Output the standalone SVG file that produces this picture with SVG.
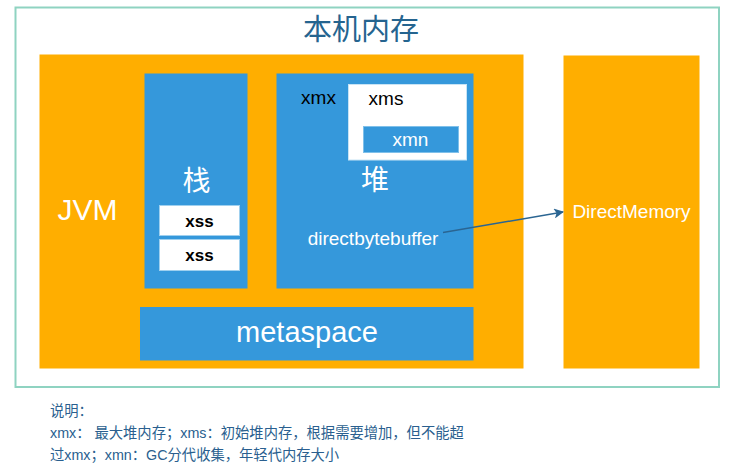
<svg xmlns="http://www.w3.org/2000/svg" width="735" height="472" viewBox="0 0 735 472">
<style>
.t{font-family:"Liberation Sans","Noto Sans CJK SC",sans-serif;}
.cjk{font-family:"Noto Sans CJK SC","Liberation Sans",sans-serif;}
.orange{fill:#ffae00;}
.blue{fill:#3598db;}
.w{fill:#ffffff;}
.note{font-family:"Liberation Sans","Noto Sans CJK SC",sans-serif;font-size:14.3px;fill:#2a5f8f;}
</style>
<defs>
<marker id="arr" viewBox="0 0 10 10" refX="9" refY="5" markerWidth="10" markerHeight="10" orient="auto" markerUnits="userSpaceOnUse">
<path d="M0,0 L10,5 L0,10 L2.5,5 Z" fill="#2a6592"/>
</marker>
</defs>
<rect width="735" height="472" fill="#ffffff"/>
<g id="native-memory">
<rect x="15.5" y="7.5" width="703.5" height="379.5" fill="#ffffff" stroke="#8fd3c1" stroke-width="2"/>
<text class="cjk" x="361" y="40" font-size="29" fill="#25648f" text-anchor="middle">本机内存</text>
</g>
<g id="jvm">
<rect class="orange" x="39.5" y="54.5" width="484" height="314"/>
<text class="t" x="87.5" y="220" font-size="30" fill="#ffffff" text-anchor="middle">JVM</text>
</g>
<g id="stack">
<rect class="blue" x="144.5" y="73.5" width="103" height="215"/>
<text class="cjk" x="196.5" y="191" font-size="28" fill="#ffffff" text-anchor="middle">栈</text>
</g>
<g id="xss1">
<rect class="w" x="159.5" y="205.5" width="80" height="30" stroke="#9fd0ef" stroke-width="1"/>
<text class="t" x="199.5" y="226.5" font-size="17" font-weight="bold" fill="#000000" text-anchor="middle">xss</text>
</g>
<g id="xss2">
<rect class="w" x="159.5" y="239.5" width="80" height="31" stroke="#9fd0ef" stroke-width="1"/>
<text class="t" x="199.5" y="261" font-size="17" font-weight="bold" fill="#000000" text-anchor="middle">xss</text>
</g>
<g id="heap">
<rect class="blue" x="276.5" y="73.5" width="197" height="215"/>
<text class="t" x="318.5" y="103.5" font-size="19" fill="#000000" text-anchor="middle">xmx</text>
<text class="cjk" x="375" y="190" font-size="28" fill="#ffffff" text-anchor="middle">堆</text>
<text class="t" x="373" y="245" font-size="19" fill="#ffffff" text-anchor="middle">directbytebuffer</text>
</g>
<g id="xms">
<rect class="w" x="348.5" y="84.5" width="118" height="75.5" stroke="#c8e4f5" stroke-width="1"/>
<text class="t" x="386" y="105" font-size="19" fill="#000000" text-anchor="middle">xms</text>
</g>
<g id="xmn">
<rect class="blue" x="363.5" y="126.5" width="95" height="26" stroke="#7fc0ea" stroke-width="1"/>
<text class="t" x="410.5" y="145.5" font-size="19" fill="#ffffff" text-anchor="middle">xmn</text>
</g>
<g id="metaspace">
<rect class="blue" x="140" y="307" width="333.5" height="53.5"/>
<text class="t" x="307" y="341.5" font-size="29" fill="#ffffff" text-anchor="middle">metaspace</text>
</g>
<g id="direct-memory">
<rect class="orange" x="563.5" y="55.5" width="136" height="313"/>
<text class="t" x="631.5" y="218" font-size="19" fill="#ffffff" text-anchor="middle">DirectMemory</text>
</g>
<g id="connectors">
<line x1="443" y1="232.5" x2="563" y2="212" stroke="#2a6592" stroke-width="1.5" marker-end="url(#arr)"/>
</g>
<g id="notes">
<text class="note" x="50" y="416">说明：</text>
<text class="note" x="50" y="438">xmx： 最大堆内存；xms：初始堆内存，根据需要增加，但不能超</text>
<text class="note" x="50" y="460">过xmx；xmn：GC分代收集，年轻代内存大小</text>
</g>
</svg>
